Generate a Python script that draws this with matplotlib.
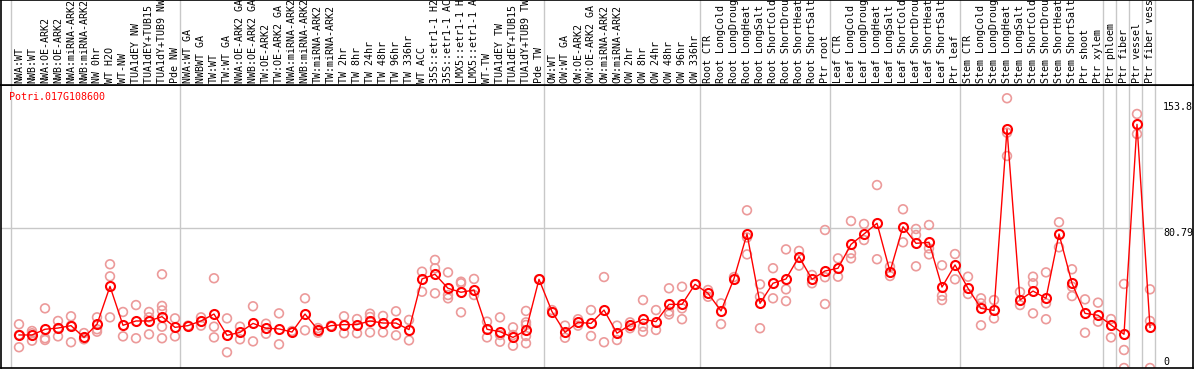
import matplotlib
matplotlib.use("Agg")
import matplotlib.pyplot as plt

# sample labels (header, read upward)
labels = [
    "NWA:WT", "NWB:WT", "NWA:OE-ARK2", "NWB:OE-ARK2", "NWA:miRNA-ARK2", "NWB:miRNA-ARK2",
    "NW 0hr", "WT H2O", "WT-NW", "TUA1dEY NW", "TUA1dEY+TUB15 NW", "TUA1dY+TUB9 NW", "Pde NW",
    "NWA:WT GA", "NWBWT GA", "TW:WT", "TW:WT GA", "NWA:OE-ARK2 GA", "NWB:OE-ARK2 GA",
    "TW:OE-ARK2", "TW:OE-ARK2 GA", "NWA:miRNA-ARK2 GA", "NWB:miRNA-ARK2 GA", "TW:miRNA-ARK2",
    "TW:miRNA-ARK2", "TW 2hr", "TW 8hr", "TW 24hr", "TW 48hr", "TW 96hr", "TW 336hr", "WT ACC",
    "35S::etr1-1 H2O", "35S::etr1-1 ACC", "LMX5::etr1-1 H2O", "LMX5::etr1-1 ACC", "WT-TW",
    "TUA1dEY TW", "TUA1dEY+TUB15 TW", "TUA1dY+TUB9 TW", "Pde TW",
    "OW:WT", "OW:WT GA", "OW:OE-ARK2", "OW:OE-ARK2 GA", "OW:miRNA-ARK2", "OW:miRNA-ARK2",
    "OW 2hr", "OW 8hr", "OW 24hr", "OW 48hr", "OW 96hr", "OW 336hr",
    "Root CTR", "Root LongCold", "Root LongDrought", "Root LongHeat", "Root LongSalt",
    "Root ShortCold", "Root ShortDrought", "Root ShortHeat", "Root ShortSalt", "Ptr root",
    "Leaf CTR", "Leaf LongCold", "Leaf LongDrought", "Leaf LongHeat", "Leaf LongSalt",
    "Leaf ShortCold", "Leaf ShortDrought", "Leaf ShortHeat", "Leaf ShortSalt", "Ptr leaf",
    "Stem CTR", "Stem LongCold", "Stem LongDrought", "Stem LongHeat", "Stem LongSalt",
    "Stem ShortCold", "Stem ShortDrought", "Stem ShortHeat", "Stem ShortSalt",
    "Ptr shoot", "Ptr xylem", "Ptr phloem", "Ptr fiber", "Ptr vessel", "Ptr fiber vessel",
]

# mean expression per sample
means = [
    19.1, 19.1, 22.4, 23.1, 24.5, 17.7, 25.3, 47.2, 24.7, 27.2, 27.2, 29.7, 23.5,
    24.5, 27.2, 31.2, 18.9, 20.6, 25.8, 23.0, 22.6, 20.8, 31.2, 22.0, 24.5, 25.1, 25.1,
    27.2, 26.0, 26.0, 22.2, 51.5, 54.2, 46.1, 43.8, 45.1, 22.4, 21.0, 17.7, 21.8, 51.3,
    32.6, 20.6, 26.4, 25.8, 33.5, 20.1, 24.9, 28.2, 26.8, 36.8, 36.8, 48.4,
    43.2, 33.0, 51.7, 77.5, 37.4, 49.0, 51.5, 64.4, 51.3, 56.1,
    57.7, 71.5, 77.5, 83.7, 55.7, 81.7, 72.1, 72.7, 46.8, 59.6,
    46.1, 34.5, 33.3, 138.0, 39.3, 44.5, 40.3, 77.5, 49.0, 31.6, 30.5,
    24.9, 19.5, 140.9, 23.5,
]

# individual replicates per sample
reps = [
    [25.3, 19.1, 12.0], [21.4, 20.1, 15.8], [34.5, 17.2, 16.2], [27.2, 23.1, 18.3],
    [29.9, 24.5, 14.9], [20.2, 16.6], [29.3, 22.4, 21.0], [60.0, 53.0, 29.3],
    [32.4, 18.3], [36.4, 17.2], [32.4, 29.3, 19.5], [54.2, 35.9, 33.3, 23.9, 17.2],
    [28.7, 18.3],
    [24.5], [29.3, 24.5], [51.9, 23.9, 17.7], [28.7, 9.1], [23.9, 16.6], [35.7, 15.4],
    [25.6, 19.8], [31.6, 13.7], [21.4], [40.3, 21.8], [23.1, 20.4], [24.5],
    [29.9, 20.1], [28.3, 20.1], [31.4, 29.5, 20.6], [30.1, 20.6], [32.8, 18.9],
    [27.8, 16.0], [55.7, 44.1], [62.5, 57.7, 43.2], [55.3, 42.2, 40.3],
    [49.9, 49.0, 32.2], [51.5, 42.2], [26.8, 17.7], [29.3, 19.1, 15.2],
    [23.5, 19.1, 12.9], [33.0, 26.4, 24.9, 18.5, 14.3], [51.3],
    [33.5], [24.5, 17.5], [28.2, 24.5], [33.5, 18.5], [52.6, 14.9], [24.5, 16.2],
    [26.4, 23.0], [39.3, 23.9, 21.0], [33.5, 22.0], [46.1, 32.6, 31.0],
    [47.0, 34.5, 28.2], [48.4],
    [45.1, 41.2], [37.4, 25.4], [52.6], [91.2, 75.5, 65.7], [48.4, 41.2, 23.0],
    [57.7, 40.3], [68.6, 45.5, 38.7], [67.7, 59.2], [53.8, 49.0], [79.8, 52.5, 37.0],
    [63.4, 52.8], [85.0, 66.3, 63.4], [83.3, 74.0], [105.8, 62.9], [58.6, 53.2],
    [91.8, 72.7], [80.4, 76.9, 58.8], [82.7, 69.2, 65.7], [59.4, 41.8, 39.3],
    [65.9, 51.3],
    [52.8, 42.8], [40.3, 37.4, 24.7], [39.3, 28.7], [156.0, 136.1, 122.6],
    [44.0, 36.4], [52.8, 49.0, 31.6], [55.3, 37.4, 28.2], [84.3, 69.8],
    [57.1, 47.0, 41.6], [39.7, 20.4], [37.8, 26.8],
    [28.3, 17.7], [48.6, 10.4, 0.0], [146.9, 135.3], [45.5, 27.2, 0.0],
]

# last sample index of each group (separator lines)
group_ends = [-1, 12, 40, 52, 62, 72, 83, 84, 85, 86, 87]
axis_ticks = [153.8, 80.79, 0]
gene = "Potri.017G108600"

W, H = 1194, 370
mono = "DejaVu Sans Mono"
fs = 7.2
grid_c = "#c8c8c8"


def px_box(x0, y0, x1, y1):
    return [x0 / W, 1 - y1 / H, (x1 - x0) / W, (y1 - y0) / H]


fig = plt.figure(figsize=(W / 100, H / 100), dpi=100)
ax = fig.add_axes(px_box(1, 85, 1193, 368))
axh = fig.add_axes(px_box(1, 0, 1193, 85), sharex=ax)

ax.set_xlim(-18 / 13, 1174 / 13)
ax.set_ylim(0, 163.66)
axh.set_ylim(0, 1)

for a in (ax, axh):
    a.set_xticks([])
    a.set_yticks([])
    for s in a.spines.values():
        s.set_linewidth(1.2)
        s.set_color("black")
    for g in group_ends:
        a.axvline(g + 0.42, color=grid_c, lw=1.0, zorder=0)

ax.plot([-18 / 13, 87.9], [80.79, 80.79], color=grid_c, lw=1.0, zorder=0)

x = list(range(len(means)))

# replicates
rx, ry = [], []
for i, r in enumerate(reps):
    for v in r:
        rx.append(i)
        ry.append(v)
ax.scatter(rx, ry, s=40, facecolors="none", edgecolors="#ec9a9a", linewidths=1.2, zorder=2)

# means
ax.plot(x, means, color="red", lw=1.0, marker="o", ms=6.5, mfc="none",
        mec="red", mew=1.5, zorder=3)

ax.text(8 / 1192, 0.975, gene, transform=ax.transAxes, color="red",
        fontsize=fs, family=mono, ha="left", va="top")

for v in axis_ticks:
    ax.text(88.0, v + (0.8 if v == 0 else 0), f"{v:g}", fontsize=fs, family=mono,
            ha="left", va="bottom" if v == 0 else "top")

for i, lab in enumerate(labels):
    axh.text(i, 2 / 85, lab, rotation=90, ha="center", va="bottom",
             fontsize=fs, family=mono, clip_on=False)

fig.savefig("out.png", dpi=100)
